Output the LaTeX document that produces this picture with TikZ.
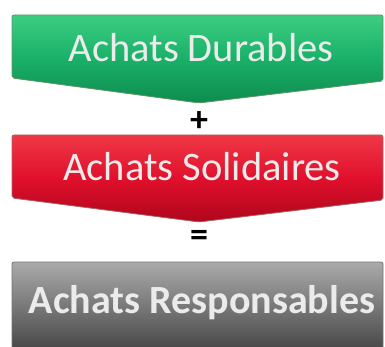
\documentclass[tikz,border=0pt]{standalone}
\usepackage{fontspec}
\setmainfont{Carlito}
\begin{document}
\begin{tikzpicture}[x=1pt,y=1pt,
  label/.style={text=white!92!black, font=\fontsize{40.5}{44}\selectfont, inner sep=0pt, anchor=base},
  sign/.style={text=black, font=\bfseries\fontsize{36}{38}\selectfont, inner sep=0pt},
  chevron/.style={rounded corners=2pt, line width=0.8pt}
]
\useasboundingbox (0,0) rectangle (385,-347);
% green chevron
\path[chevron, draw=green!30!black!60, top color={rgb,255:red,60;green,205;blue,130}, bottom color={rgb,255:red,14;green,140;blue,80}, middle color={rgb,255:red,26;green,176;blue,104}]
  (12,-15) -- (383,-15) -- (383,-81) -- (199,-103) -- (12,-78) -- cycle;
% red chevron
\path[chevron, draw=red!40!black!60, top color={rgb,255:red,240;green,55;blue,70}, bottom color={rgb,255:red,175;green,6;blue,28}, middle color={rgb,255:red,224;green,16;blue,44}]
  (12,-135) -- (383,-135) -- (383,-200) -- (199,-222) -- (12,-198) -- cycle;
% gray box
\path[chevron, draw=black!55, top color={rgb,255:red,170;green,170;blue,170}, bottom color={rgb,255:red,72;green,72;blue,72}]
  (12,-262) -- (383,-262) -- (383,-349) -- (12,-349) -- cycle;
\node[label] (dur) at (201,-62) {Achats Durables};
\node[label] (sol) at (202,-181) {Achats Solidaires};
\node[label, font=\bfseries\fontsize{40}{44}\selectfont] (resp) at (202,-313) {Achats Responsables};
\node[sign] (plus) at (199,-122) {+};
\node[sign] (eq) at (199,-238) {=};
\end{tikzpicture}
\end{document}
